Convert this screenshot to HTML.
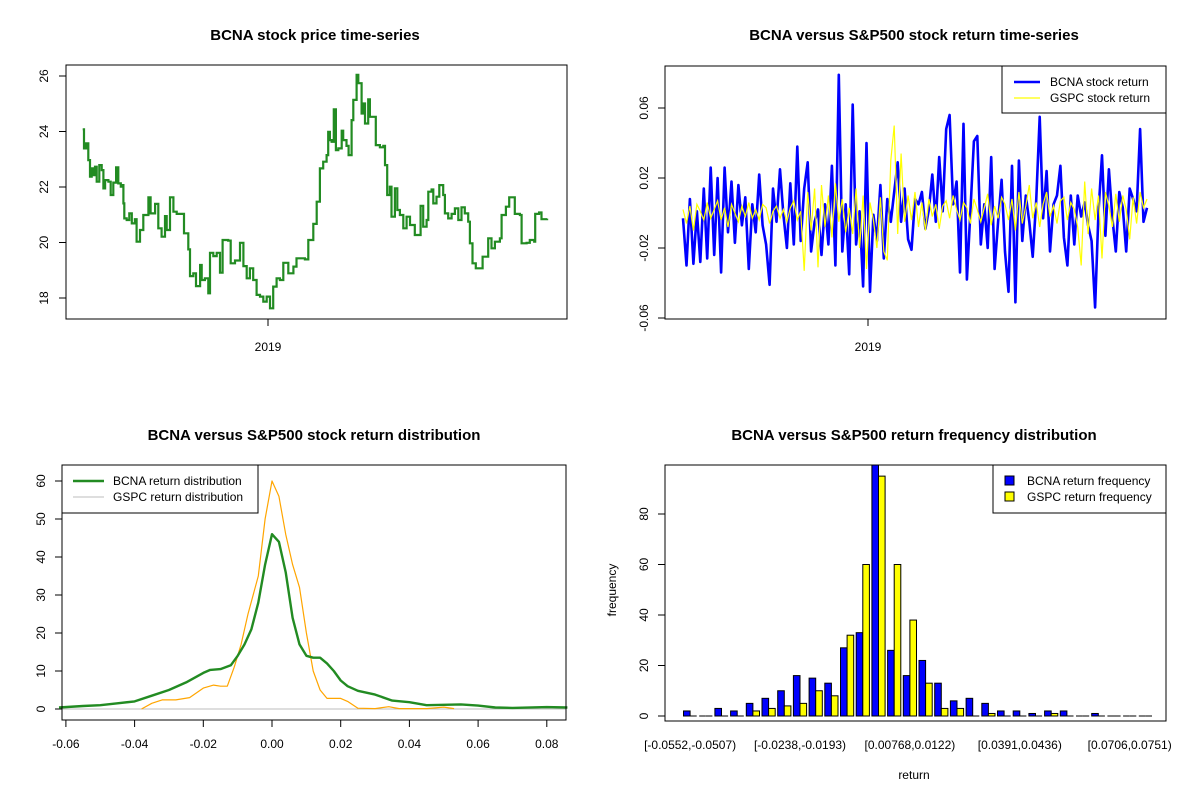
<!DOCTYPE html>
<html><head><meta charset="utf-8"><style>
html,body{margin:0;padding:0;background:#fff;}
svg{display:block;font-family:"Liberation Sans",Arial,sans-serif;}
</style></head><body>
<svg id="chart" xmlns="http://www.w3.org/2000/svg" width="1200" height="800" viewBox="0 0 1200 800"></svg>
<script>
// ---------- data ----------
const priceDays = [0,0.7,1.8,3.0,3.9,4.8,5.7,6.6,7.5,8.9,10.2,11.1,12.0,13.8,15.0,16.4,17.9,19.1,20.4,21.4,21.8,22.3,23.6,25.0,26.3,28.0,28.9,30.7,32.5,35.2,36.4,38.8,40.5,42.3,44.1,45.0,46.8,48.6,50.4,53.0,54.3,56.6,57.5,59.3,60.7,62.9,63.8,65.5,67.3,68.2,70.0,71.8,73.6,75.0,78.0,79.3,81.6,84.3,86.1,87.9,89.6,91.4,93.2,95.0,96.8,98.6,100.4,102.1,103.9,105.7,107.5,110.2,112.9,114.6,119.1,120.9,123.6,125.4,127.1,128.9,130.7,131.6,132.5,133.4,134.6,135.7,137.0,138.8,139.6,141.4,142.5,144.1,145.0,146.8,147.7,149.5,150.4,151.3,153.0,153.9,155.7,157.1,159.3,161.1,162.0,163.2,164.6,165.5,167.3,168.6,170.0,171.8,173.6,175.4,178.0,180.4,181.1,182.5,184.3,185.2,187.0,187.9,189.6,191.1,193.2,194.1,195.9,197.7,199.5,201.3,203.0,204.8,206.6,207.5,208.9,210.7,212.9,214.3,216.4,217.3,219.1,220.9,223.6,224.5,226.8,228.6,230.4,231.6,234.3,235.2,237.9,239.6,242.0,242.5,244.6,245.9,248.9];
const priceValues = [24.08,23.39,23.57,22.97,22.37,22.67,22.43,22.73,22.19,22.79,22.61,21.95,22.25,22.19,21.71,22.16,22.71,22.13,22.01,22.07,21.41,20.87,20.81,21.05,20.69,20.84,20.03,20.45,20.99,21.63,21.05,21.39,20.51,20.21,20.95,20.45,21.63,21.11,21.03,21.03,20.33,19.75,18.79,18.89,18.43,19.19,18.65,18.71,18.17,19.63,19.51,19.63,18.91,20.09,20.07,19.25,19.35,19.99,19.15,18.71,19.07,18.65,18.11,18.05,17.87,18.05,17.63,18.41,18.71,18.65,19.27,18.89,19.13,19.43,19.39,20.09,20.67,21.47,22.67,22.91,23.15,23.99,23.69,23.63,24.80,23.33,23.39,24.03,23.69,23.48,23.15,24.41,25.14,26.04,25.74,24.65,25.01,24.29,25.16,24.53,24.53,23.51,23.43,23.48,22.79,21.71,22.01,20.93,21.95,21.17,20.99,20.51,20.93,20.63,20.27,20.27,21.32,20.57,20.81,21.83,21.91,21.41,21.65,22.07,21.71,21.05,20.87,21.03,21.23,20.81,21.27,21.05,20.75,19.97,19.25,19.07,19.07,19.49,19.49,20.15,19.79,20.03,20.15,20.99,21.29,21.63,21.63,21.03,20.99,19.97,19.99,20.09,20.03,21.03,21.08,20.84,20.86];
const priceTicks = [18,20,22,24,26];

const bcnaReturns = [-0.003,-0.030,0.008,-0.029,0.001,-0.028,0.014,-0.026,0.026,-0.024,0.020,-0.034,0.026,-0.011,0.018,-0.017,0.016,-0.007,0.009,-0.032,0.005,-0.011,0.022,-0.007,-0.018,-0.041,0.014,-0.005,0.025,-0.001,-0.020,0.017,-0.018,0.038,-0.016,0.014,0.029,-0.022,-0.005,0.002,-0.024,0.005,-0.018,0.027,-0.030,0.079,-0.022,0.005,-0.035,0.062,-0.018,0.001,-0.042,0.040,-0.045,-0.001,-0.016,0.016,-0.026,0.008,-0.005,0.012,0.029,-0.005,0.014,-0.015,-0.021,0.008,0.005,0.012,-0.009,0.002,0.022,-0.005,0.032,0.001,0.048,0.056,0.005,0.018,-0.034,0.051,-0.038,0.001,0.041,0.044,-0.018,0.005,-0.020,0.032,-0.032,-0.005,0.019,-0.022,-0.045,0.027,-0.051,0.030,-0.016,0.010,-0.005,-0.025,0.007,0.055,-0.003,0.024,-0.022,0.005,0.010,0.027,-0.014,-0.030,0.010,-0.018,0.010,-0.002,0.006,-0.007,-0.016,-0.054,0.001,0.033,-0.013,0.025,-0.003,-0.022,0.012,0.003,-0.022,0.014,0.008,0.001,0.048,-0.005,0.003];
const gspcReturns = [0.002,-0.006,0.004,-0.010,0.005,0.001,-0.004,0.006,-0.003,0.002,0.007,-0.004,0.003,-0.008,0.005,0.000,-0.005,0.004,-0.002,0.006,-0.003,0.002,-0.004,0.005,0.003,-0.006,0.001,0.004,-0.003,0.002,-0.005,0.003,0.007,-0.004,0.001,-0.033,0.012,-0.010,0.014,-0.031,0.016,-0.008,0.010,-0.014,0.017,-0.005,0.008,-0.011,0.003,-0.012,0.014,-0.020,0.010,-0.032,0.006,-0.004,-0.020,0.009,-0.022,-0.027,0.030,0.050,-0.012,0.034,-0.005,0.010,-0.004,0.012,-0.008,0.006,-0.010,0.008,-0.002,0.005,-0.009,0.004,0.007,-0.003,0.010,0.002,-0.004,0.006,0.003,-0.006,0.008,0.002,-0.005,0.003,0.011,-0.007,0.004,-0.003,0.009,0.005,-0.004,0.008,-0.010,0.012,-0.006,0.004,0.016,-0.003,0.006,-0.008,0.005,0.012,-0.002,0.004,-0.006,0.007,0.009,-0.004,0.006,0.002,-0.008,-0.030,0.018,-0.012,0.014,-0.004,0.010,-0.026,0.012,0.004,-0.008,0.011,-0.005,0.010,0.002,-0.015,0.009,-0.006,0.012,0.003,0.008];
const returnTicks = [-0.06,-0.02,0.02,0.06];
const returnTickLabels = ["-0.06","-0.02","0.02","0.06"];

const bcnaDensX = [-0.062,-0.055,-0.05,-0.045,-0.04,-0.035,-0.03,-0.025,-0.02,-0.018,-0.015,-0.012,-0.01,-0.008,-0.006,-0.004,-0.002,0,0.002,0.004,0.006,0.008,0.01,0.012,0.014,0.016,0.018,0.02,0.022,0.025,0.03,0.035,0.04,0.045,0.05,0.055,0.06,0.065,0.07,0.08,0.086];
const bcnaDensY = [0.4,0.8,1.0,1.5,2.0,3.5,5.0,7.0,9.5,10.3,10.5,11.5,14,17,21,28,38,46,44,36,24,17,14,13.5,13.5,12,10,7.5,6,4.8,3.8,2.2,1.8,1.0,1.1,1.2,0.9,0.4,0.3,0.5,0.4];
const gspcDensX = [-0.038,-0.035,-0.032,-0.028,-0.024,-0.02,-0.017,-0.015,-0.013,-0.011,-0.009,-0.007,-0.004,-0.002,0,0.002,0.004,0.006,0.008,0.01,0.012,0.014,0.016,0.02,0.022,0.025,0.03,0.034,0.037,0.045,0.05,0.053];
const gspcDensY = [0,1.5,2.4,2.4,3,5.5,6.3,6,6,11,17,25,35,50,60,56,46,38,32,20,10,5,2.8,2.8,2,0.2,0.1,0.6,0.1,0.1,0.5,0.1];
const densXTicks = [-0.06,-0.04,-0.02,0,0.02,0.04,0.06,0.08];
const densXLabels = ["-0.06","-0.04","-0.02","0.00","0.02","0.04","0.06","0.08"];
const densYTicks = [0,10,20,30,40,50,60];

const bcnaFreq = [2,0,3,2,5,7,10,16,15,13,27,33,100,26,16,22,13,6,7,5,2,2,1,2,2,0,1,0,0,0];
const gspcFreq = [0,0,0,0,2,3,4,5,10,8,32,60,95,60,38,13,3,3,0,1,0,0,0,1,0,0,0,0,0,0];
const freqTicks = [0,20,40,60,80];
const binLabelIdx = [0,7,14,21,28];
const binLabels = ["[-0.0552,-0.0507)","[-0.0238,-0.0193)","[0.00768,0.0122)","[0.0391,0.0436)","[0.0706,0.0751)"];

// ---------- helpers ----------
const NS = "http://www.w3.org/2000/svg";
const svg = document.getElementById("chart");
function mk(tag, attrs, parent){
  const e = document.createElementNS(NS, tag);
  for (const k in attrs) e.setAttribute(k, attrs[k]);
  (parent||svg).appendChild(e);
  return e;
}
function txt(s, x, y, attrs, parent){
  const t = mk("text", Object.assign({x:x, y:y, "font-size":12, "text-anchor":"middle", fill:"#000"}, attrs||{}), parent);
  t.textContent = s;
  return t;
}
function group(){ return mk("g", {}); }
function stepPts(xsArr, ysArr){
  const out = [];
  for (let i=0;i<xsArr.length;i++){
    if (i>0) out.push(xsArr[i].toFixed(1)+","+ysArr[i-1].toFixed(1));
    out.push(xsArr[i].toFixed(1)+","+ysArr[i].toFixed(1));
  }
  return out.join(" ");
}

// ---------- panel 1: price ----------
(function(){
  const L=66,R=567,T=65,B=319;
  const xs = d => 82.7 + d*(547.3-82.7)/249;
  const ys = p => 76 + (26-p)*27.75;
  const g = group();
  
  
  let t = txt("BCNA stock price time-series", 315, 40, {"font-size":15,"font-weight":"bold"}, g);
  
  
  priceTicks.forEach(v=>{
    mk("line",{x1:59,x2:L,y1:ys(v),y2:ys(v),stroke:"#000"},g);
    const l = txt(String(v), 0, 0, {transform:`translate(48,${ys(v)}) rotate(-90)`}, g);
    
    
  });
  mk("line",{x1:268,x2:268,y1:B,y2:B+7,stroke:"#000"},g);
  const xl = txt("2019",268,351,{},g);
  
  
  const pts = stepPts(priceDays.map(xs), priceValues.map(ys));
  const pl = mk("polyline",{points:pts,fill:"none",stroke:"#228B22","stroke-width":2.2,"stroke-linejoin":"miter"},g);
  
  
  const bx = mk("rect",{x:L,y:T,width:R-L,height:B-T,fill:"none",stroke:"#000"},g);
  
  
})();

// ---------- panel 2: returns ----------
(function(){
  const L=665,R=1166,T=66,B=319;
  const ys = r => 213 - r*1750;
  const xsOf = (n) => (i => 683 + i*(1147-683)/(n-1));
  const g = group();
  
  
  const t = txt("BCNA versus S&P500 stock return time-series", 914, 40, {"font-size":15,"font-weight":"bold"}, g);
  
  
  returnTicks.forEach((v,i)=>{
    mk("line",{x1:658,x2:L,y1:ys(v),y2:ys(v),stroke:"#000"},g);
    const l = txt(returnTickLabels[i],0,0,{transform:`translate(648,${ys(v)}) rotate(-90)`},g);
    
    
  });
  mk("line",{x1:868,x2:868,y1:B,y2:B+7,stroke:"#000"},g);
  const xl = txt("2019",868,351,{},g);
  
  
  const xb = xsOf(bcnaReturns.length);
  const pb = mk("polyline",{points:bcnaReturns.map((r,i)=>xb(i).toFixed(1)+","+ys(r).toFixed(1)).join(" "),fill:"none",stroke:"#0000FF","stroke-width":2.6,"stroke-linejoin":"round"},g);
  
  
  const xg = xsOf(gspcReturns.length);
  const pg = mk("polyline",{points:gspcReturns.map((r,i)=>xg(i).toFixed(1)+","+ys(r).toFixed(1)).join(" "),fill:"none",stroke:"#FFFF00","stroke-width":1.2},g);
  
  
  mk("rect",{x:L,y:T,width:R-L,height:B-T,fill:"none",stroke:"#000"},g);
  const lg = mk("g",{},g);
  
  
  mk("rect",{x:1002,y:66,width:164,height:47,fill:"#fff",stroke:"#000"},lg);
  mk("line",{x1:1014,x2:1040,y1:82,y2:82,stroke:"#0000FF","stroke-width":2.6},lg);
  mk("line",{x1:1014,x2:1040,y1:98,y2:98,stroke:"#FFFF00","stroke-width":1.2},lg);
  txt("BCNA stock return",1050,86,{"text-anchor":"start"},lg);
  txt("GSPC stock return",1050,102,{"text-anchor":"start"},lg);
})();

// ---------- panel 3: density ----------
(function(){
  const L=62,R=566,T=465,B=720;
  const xs = v => 272 + v*(68.7/0.02);
  const ys = d => 709 - d*3.8;
  const g = group();
  
  
  const t = txt("BCNA versus S&P500 stock return distribution", 314, 440, {"font-size":15,"font-weight":"bold"}, g);
  
  
  densYTicks.forEach(v=>{
    mk("line",{x1:55,x2:L,y1:ys(v),y2:ys(v),stroke:"#000"},g);
    const l = txt(String(v),0,0,{transform:`translate(45,${ys(v)}) rotate(-90)`},g);
    
    
  });
  densXTicks.forEach((v,i)=>{
    mk("line",{x1:xs(v),x2:xs(v),y1:B,y2:B+7,stroke:"#000"},g);
    const l = txt(densXLabels[i],xs(v),748,{},g);
    
    
  });
  mk("line",{x1:L,x2:R,y1:ys(0),y2:ys(0),stroke:"#BEBEBE"},g);
  const pg = mk("polyline",{points:gspcDensX.map((x,i)=>xs(x).toFixed(1)+","+ys(gspcDensY[i]).toFixed(1)).join(" "),fill:"none",stroke:"#FFA500","stroke-width":1.2,"stroke-linejoin":"round"},g);
  
  
  const pb = mk("polyline",{points:bcnaDensX.map((x,i)=>xs(x).toFixed(1)+","+ys(bcnaDensY[i]).toFixed(1)).join(" "),fill:"none",stroke:"#228B22","stroke-width":2.4,"stroke-linejoin":"round"},g);
  
  
  mk("rect",{x:L,y:T,width:R-L,height:B-T,fill:"none",stroke:"#000"},g);
  const lg = mk("g",{},g);
  
  
  mk("rect",{x:L,y:T,width:196,height:48,fill:"#fff",stroke:"#000"},lg);
  mk("line",{x1:73,x2:104,y1:481,y2:481,stroke:"#228B22","stroke-width":2.4},lg);
  mk("line",{x1:73,x2:104,y1:497,y2:497,stroke:"#BEBEBE","stroke-width":1},lg);
  txt("BCNA return distribution",113,485,{"text-anchor":"start"},lg);
  txt("GSPC return distribution",113,501,{"text-anchor":"start"},lg);
})();

// ---------- panel 4: histogram ----------
(function(){
  const L=665,R=1166,T=465,B=721;
  const ys = v => 716 - v*2.525;
  const gx = i => 683.5 + i*15.7;
  const bw = 6.6;
  const g = group();
  
  
  const t = txt("BCNA versus S&P500 return frequency distribution", 914, 440, {"font-size":15,"font-weight":"bold"}, g);
  
  
  freqTicks.forEach(v=>{
    mk("line",{x1:658,x2:L,y1:ys(v),y2:ys(v),stroke:"#000"},g);
    const l = txt(String(v),0,0,{transform:`translate(648,${ys(v)}) rotate(-90)`},g);
    
    
  });
  const yl = txt("frequency",0,0,{transform:"translate(616,590) rotate(-90)"},g);
  
  
  const xl = txt("return",914,779,{},g);
  
  
  binLabelIdx.forEach((bi,k)=>{
    const l = txt(binLabels[k], gx(bi)+bw, 749, {}, g);
    
    
  });
  const clip = mk("clipPath",{id:"hclip"},g);
  mk("rect",{x:L,y:T,width:R-L,height:B-T},clip);
  const bars = mk("g",{"clip-path":"url(#hclip)"},g);
  function bar(x, v, fill){
    if (v === 0){
      return mk("line",{x1:x,x2:x+bw,y1:ys(0),y2:ys(0),stroke:"#000","stroke-width":1},bars);
    }
    return mk("rect",{x:x,y:ys(v),width:bw,height:v*2.525,fill:fill,stroke:"#000","stroke-width":1},bars);
  }
  bcnaFreq.forEach((v,i)=>{
    const r = bar(gx(i), v, "#0000FF");
    
    
  });
  gspcFreq.forEach((v,i)=>{
    const r = bar(gx(i)+bw, v, "#FFFF00");
    
    
  });
  mk("rect",{x:L,y:T,width:R-L,height:B-T,fill:"none",stroke:"#000"},g);
  const lg = mk("g",{},g);
  
  
  mk("rect",{x:993,y:T,width:173,height:48,fill:"#fff",stroke:"#000"},lg);
  mk("rect",{x:1005,y:476,width:9,height:9,fill:"#0000FF",stroke:"#000"},lg);
  mk("rect",{x:1005,y:492,width:9,height:9,fill:"#FFFF00",stroke:"#000"},lg);
  txt("BCNA return frequency",1027,485,{"text-anchor":"start"},lg);
  txt("GSPC return frequency",1027,501,{"text-anchor":"start"},lg);
})();
</script>
</body></html>
